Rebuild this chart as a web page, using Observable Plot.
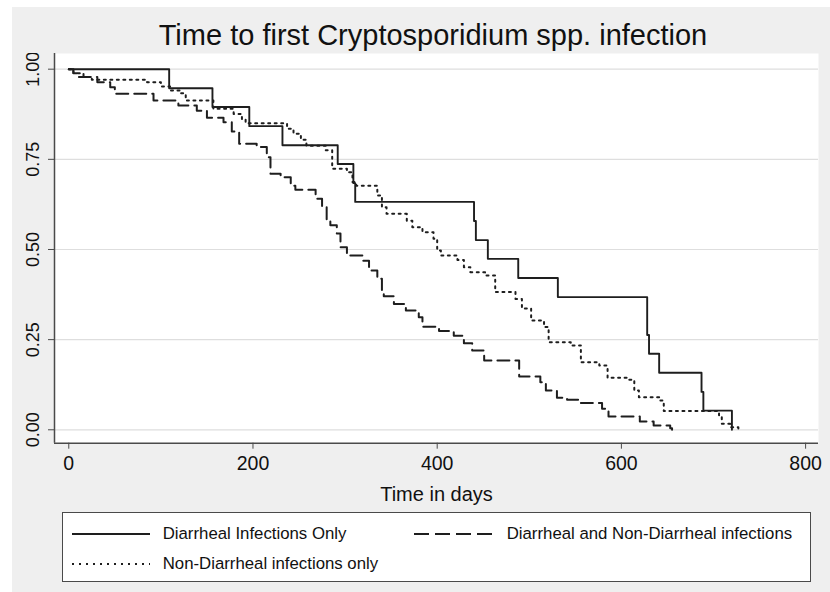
<!DOCTYPE html>
<html>
<head>
<meta charset="utf-8">
<script src="https://cdn.jsdelivr.net/npm/d3@7"></script>
<script src="https://cdn.jsdelivr.net/npm/@observablehq/plot@0.6"></script>
<style>
  html, body { margin: 0; padding: 0; background: #ffffff; }
  #fig { position: relative; width: 830px; height: 592px; overflow: hidden; background: #ffffff;
         font-family: Arial, "Liberation Sans", Helvetica, sans-serif; color: #111; }
  #bg { position: absolute; left: 12px; top: 7px; right: 0; bottom: 0; background: #efefef; }
  #title { position: absolute; left: 48px; width: 770px; top: 20px; text-align: center;
           font-size: 29px; line-height: 30px; white-space: nowrap; color: #111; }
  #chart { position: absolute; left: 0; top: 53px; }
  #legend { position: absolute; left: 62px; top: 512px; width: 747px; height: 68px;
            background: #fff; border: 1.4px solid #4a4a4a; }
  .item { position: absolute; height: 20px; display: flex; align-items: center; font-size: 16.8px; white-space: nowrap; }
  .item svg { flex: none; margin-right: 13px; }
</style>
</head>
<body>
<div id="fig">
  <div id="bg"></div>
  <div id="title"></div>
  <div id="chart"></div>
  <div id="legend"></div>
</div>
<script>
// ---- Data ----
const titleText = "Time to first Cryptosporidium spp. infection";
const xLabel = "Time in days";
const xTicks = [0, 200, 400, 600, 800];
const yTicks = [0, 0.25, 0.5, 0.75, 1];
const seriesNames = ["Diarrheal Infections Only", "Diarrheal and Non-Diarrheal infections", "Non-Diarrheal infections only"];

// Diarrheal Infections Only (solid)
const dTimes  = [0, 109, 156, 196, 232, 292, 309, 311, 440, 442, 455, 488, 531, 628, 630, 641, 687, 689, 720];
const dValues = [1.0, 0.947, 0.895, 0.842, 0.789, 0.737, 0.684, 0.632, 0.579, 0.526, 0.474, 0.421, 0.368, 0.263, 0.211, 0.158, 0.105, 0.053, 0.0];

// Diarrheal and Non-Diarrheal infections (dashed)
const dnTimes  = [0, 5, 11, 31, 45, 50, 92, 119, 139, 150, 168, 177, 185, 204, 215, 219, 230, 241, 246, 268, 275, 280, 284, 291, 295, 302, 319, 326, 335, 340, 342, 353, 366, 380, 384, 402, 418, 429, 438, 451, 489, 512, 518, 530, 541, 555, 579, 586, 620, 635, 653, 655];
const dnValues = [1.0, 0.989, 0.978, 0.964, 0.950, 0.932, 0.913, 0.899, 0.885, 0.865, 0.853, 0.827, 0.793, 0.784, 0.756, 0.710, 0.700, 0.677, 0.666, 0.641, 0.617, 0.580, 0.567, 0.544, 0.506, 0.483, 0.469, 0.442, 0.419, 0.386, 0.370, 0.349, 0.331, 0.312, 0.286, 0.274, 0.261, 0.240, 0.220, 0.192, 0.148, 0.132, 0.109, 0.089, 0.083, 0.074, 0.058, 0.037, 0.023, 0.012, 0.004, 0.0];

// Non-Diarrheal infections only (dotted)
const ndTimes  = [0, 5, 16, 25, 85, 100, 110, 121, 127, 157, 179, 188, 192, 237, 244, 252, 258, 279, 286, 302, 308, 312, 335, 340, 345, 367, 373, 384, 396, 400, 404, 422, 429, 436, 452, 463, 485, 492, 502, 516, 521, 545, 556, 576, 585, 608, 614, 619, 641, 646, 706, 709, 718, 727];
const ndValues = [1.0, 0.989, 0.978, 0.971, 0.964, 0.952, 0.941, 0.933, 0.913, 0.890, 0.876, 0.862, 0.850, 0.835, 0.821, 0.804, 0.788, 0.775, 0.724, 0.714, 0.687, 0.677, 0.650, 0.617, 0.599, 0.580, 0.562, 0.548, 0.530, 0.497, 0.483, 0.471, 0.451, 0.437, 0.428, 0.382, 0.363, 0.336, 0.303, 0.285, 0.243, 0.234, 0.187, 0.178, 0.144, 0.139, 0.109, 0.090, 0.081, 0.052, 0.040, 0.017, 0.007, 0.0];

// ---- Build tables ----
const toRows = (t, v, s) => t.map((d, i) => ({time: d, surv: v[i], series: s}));
const rows = [
  ...toRows(dTimes, dValues, seriesNames[0]),
  ...toRows(dnTimes, dnValues, seriesNames[1]),
  ...toRows(ndTimes, ndValues, seriesNames[2])
];
const dashes = {[seriesNames[0]]: null, [seriesNames[1]]: "12,6", [seriesNames[2]]: "2,4.5"};
const lineColor = "#1e1e1e";

const xDomain = [-15.5, 814];
const yDomain = [-0.0372, 1.0435];

document.getElementById("title").textContent = titleText;

const plot = Plot.plot({
  width: 830,
  height: 452,
  marginLeft: 54,
  marginRight: 12,
  marginTop: 0,
  marginBottom: 62.3,
  style: {background: "transparent", fontFamily: "Arial, 'Liberation Sans', Helvetica, sans-serif", color: "#111"},
  x: {domain: xDomain},
  y: {domain: yDomain},
  marks: [
    Plot.frame({fill: "white", stroke: null}),
    Plot.gridY(yTicks, {stroke: "#dedede", strokeOpacity: 1, strokeWidth: 1.2}),
    ...seriesNames.map(s => Plot.line(rows.filter(r => r.series === s), {
      x: "time", y: "surv", curve: "step-after",
      stroke: lineColor, strokeWidth: s === seriesNames[0] ? 1.9 : 2,
      strokeDasharray: dashes[s]
    })),
    Plot.ruleX([xDomain[0]], {stroke: "#4a4a4a", strokeWidth: 1.5}),
    Plot.ruleY([yDomain[0]], {stroke: "#4a4a4a", strokeWidth: 1.5}),
    Plot.axisY(yTicks, {
      anchor: "left", tickSize: 6, tickRotate: -90, tickPadding: 10,
      fontSize: 18, tickFormat: d3.format(".2f"), label: null,
      stroke: "#4a4a4a", fill: "#111"
    }),
    Plot.axisX(xTicks, {
      anchor: "bottom", tickSize: 6, tickPadding: 7, fontSize: 19.5,
      tickFormat: d => String(d), label: null, stroke: "#4a4a4a", fill: "#111"
    }),
    Plot.text([xLabel], {
      frameAnchor: "bottom", lineAnchor: "bottom", dy: 58, fontSize: 20,
      text: d => d, fill: "#111"
    })
  ]
});
document.getElementById("chart").appendChild(plot);

// ---- Legend (HTML) ----
const legend = document.getElementById("legend");
const legendPos = [
  {left: 8.7, top: 11},
  {left: 350.7, top: 11},
  {left: 8.7, top: 41}
];
seriesNames.forEach((s, i) => {
  const item = document.createElement("div");
  item.className = "item";
  item.style.left = legendPos[i].left + "px";
  item.style.top = legendPos[i].top + "px";
  const w = i === 1 ? 80 : 78;
  item.innerHTML = `<svg width="${w}" height="6"><line x1="0" x2="${w}" y1="3" y2="3" stroke="${lineColor}" stroke-width="${i === 0 ? 1.9 : 2}" ${dashes[s] ? `stroke-dasharray="${i === 1 ? "15,6" : "2,5"}"` : ""}/></svg><span></span>`;
  item.querySelector("span").textContent = s;
  legend.appendChild(item);
});
</script>
</body>
</html>
